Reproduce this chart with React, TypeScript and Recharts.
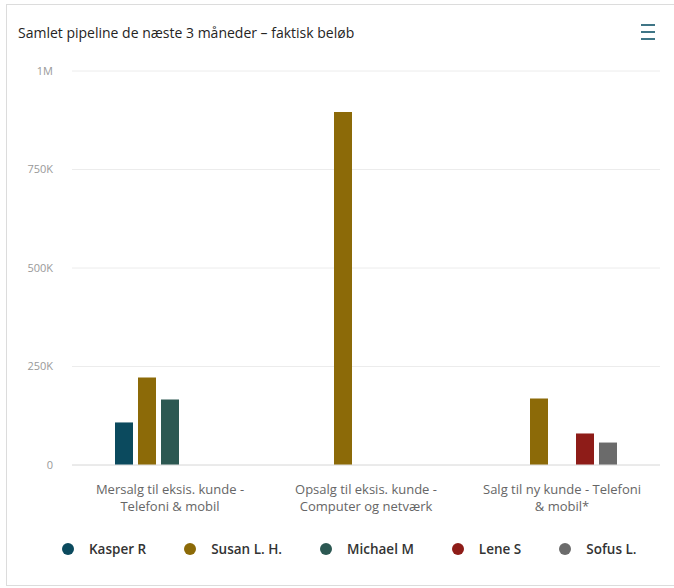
import React from 'react';
import { BarChart, Bar, XAxis, YAxis, CartesianGrid } from 'recharts';

const categories = [
  'Mersalg til eksis. kunde - Telefoni & mobil',
  'Opsalg til eksis. kunde - Computer og netværk',
  'Salg til ny kunde - Telefoni & mobil*',
];
// how the category labels break onto two lines
const categoryLines = [
  ['Mersalg til eksis. kunde -', 'Telefoni & mobil'],
  ['Opsalg til eksis. kunde -', 'Computer og netværk'],
  ['Salg til ny kunde - Telefoni', '& mobil*'],
];

const kasper = [108000, null, null];
const susan = [222000, 896000, 169000];
const michael = [166000, null, null];
const lene = [null, null, 80000];
const sofus = [null, null, 57000];

const yTicks = [0, 250000, 500000, 750000, 1000000];

const seriesNames = ['Kasper R', 'Susan L. H.', 'Michael M', 'Lene S', 'Sofus L.'];
const seriesKeys = ['kasper', 'susan', 'michael', 'lene', 'sofus'];
const seriesColors = ['#0b4a5e', '#8c6a08', '#2c5852', '#8e1c18', '#6b6b6b'];

const FONT = "'Open Sans', sans-serif";

const data = categories.map((name, i) => ({
  name,
  kasper: kasper[i],
  susan: susan[i],
  michael: michael[i],
  lene: lene[i],
  sofus: sofus[i],
}));

const formatY = (v: number) => {
  if (v === 0) return '0';
  if (v >= 1000000) return `${v / 1000000}M`;
  return `${v / 1000}K`;
};

const CategoryTick = ({ x, y, payload }: any) => {
  const lines = categoryLines[payload.index] ?? [payload.value];
  return (
    <text x={x} y={y} textAnchor="middle" fill="#666" fontSize={13} fontFamily={FONT}>
      {lines.map((line, i) => (
        <tspan key={i} x={x} dy={i === 0 ? 27 : 17}>
          {line}
        </tspan>
      ))}
    </text>
  );
};

export default function App() {
  return (
    <div
      style={{
        position: 'absolute',
        left: 0,
        top: 0,
        width: 674,
        height: 588,
        background: '#fff',
        overflow: 'hidden',
        fontFamily: FONT,
      }}
    >
      {/* card frame */}
      <div
        style={{
          position: 'absolute',
          left: 6,
          top: 4,
          width: 680,
          height: 580,
          border: '1px solid #dcdcdc',
        }}
      />
      <div
        style={{
          position: 'absolute',
          left: 18,
          top: 23,
          fontSize: 14,
          color: '#252423',
          whiteSpace: 'nowrap',
        }}
      >
        Samlet pipeline de næste 3 måneder – faktisk beløb
      </div>
      {/* menu icon */}
      <div style={{ position: 'absolute', left: 641, top: 24 }}>
        {[0, 1, 2].map((i) => (
          <div
            key={i}
            style={{ width: 14, height: 2, background: '#3f7586', marginBottom: 5 }}
          />
        ))}
      </div>

      <div style={{ position: 'absolute', left: 0, top: 0 }}>
        <BarChart
          width={674}
          height={588}
          data={data}
          margin={{ top: 71, right: 14, left: 0, bottom: 63 }}
          barSize={18}
          barGap={5}
        >
          <CartesianGrid vertical={false} stroke="#ececec" />
          <XAxis
            dataKey="name"
            tick={<CategoryTick />}
            tickLine={false}
            tickSize={0}
            axisLine={{ stroke: '#e0e0e0' }}
            height={60}
            interval={0}
          />
          <YAxis
            domain={[0, 1000000]}
            ticks={yTicks}
            tickFormatter={formatY}
            axisLine={false}
            tickLine={false}
            tickSize={0}
            tickMargin={19}
            width={72}
            tick={{ fill: '#999', fontSize: 11, fontFamily: FONT }}
          />
          {seriesKeys.map((k, i) => (
            <Bar
              key={k}
              dataKey={k}
              name={seriesNames[i]}
              fill={seriesColors[i]}
              isAnimationActive={false}
            />
          ))}
        </BarChart>
      </div>

      {/* legend */}
      <div
        style={{
          position: 'absolute',
          left: 62,
          top: 540,
          width: 640,
          display: 'flex',
          alignItems: 'center',
          whiteSpace: 'nowrap',
        }}
      >
        {seriesNames.map((n, i) => (
          <div
            key={n}
            style={{ display: 'flex', alignItems: 'center', marginRight: 38, flexShrink: 0 }}
          >
            <span
              style={{
                width: 12,
                height: 12,
                borderRadius: '50%',
                background: seriesColors[i],
                display: 'inline-block',
                marginRight: 15,
                flexShrink: 0,
              }}
            />
            <span style={{ fontSize: 13.5, fontWeight: 600, color: '#333' }}>{n}</span>
          </div>
        ))}
      </div>
    </div>
  );
}
